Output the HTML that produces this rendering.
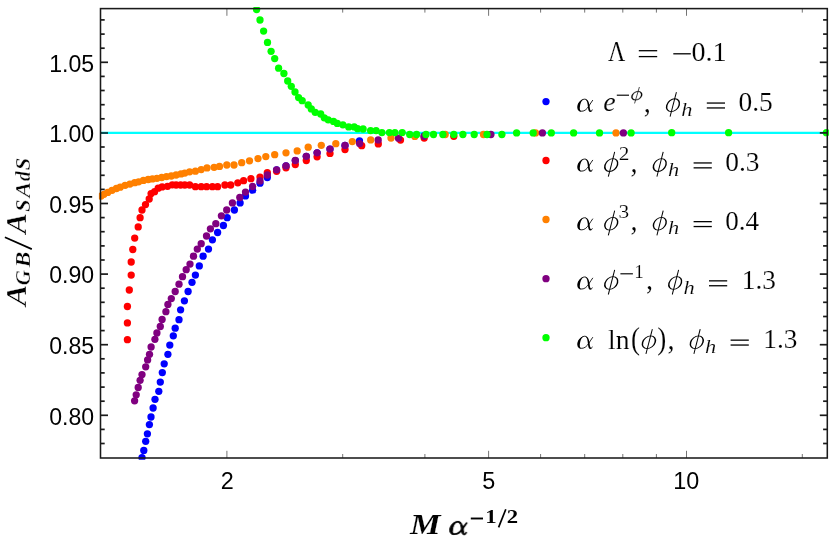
<!DOCTYPE html>
<html><head><meta charset="utf-8"><title>plot</title>
<style>html,body{margin:0;padding:0;background:#fff}svg{display:block}</style></head>
<body>
<svg width="830" height="552" viewBox="0 0 830 552">
<rect width="830" height="552" fill="#fff"/>
<defs><clipPath id="c"><rect x="98.9" y="7.0" width="730.0" height="452.7"/></clipPath></defs>
<g clip-path="url(#c)">
<line x1="100.5" y1="132.9" x2="827.3" y2="132.9" stroke="#00ffff" stroke-width="2.2"/>
<g fill="#0000ff"><circle cx="142.0" cy="457.7" r="3.65"/><circle cx="143.8" cy="450.4" r="3.65"/><circle cx="145.7" cy="441.3" r="3.65"/><circle cx="147.4" cy="433.8" r="3.65"/><circle cx="149.4" cy="424.6" r="3.65"/><circle cx="151.0" cy="417.0" r="3.65"/><circle cx="153.1" cy="408.0" r="3.65"/><circle cx="155.0" cy="399.3" r="3.65"/><circle cx="158.8" cy="391.3" r="3.65"/><circle cx="160.3" cy="382.1" r="3.65"/><circle cx="162.3" cy="372.6" r="3.65"/><circle cx="164.2" cy="363.8" r="3.65"/><circle cx="167.9" cy="354.3" r="3.65"/><circle cx="169.8" cy="345.1" r="3.65"/><circle cx="173.3" cy="335.8" r="3.65"/><circle cx="175.2" cy="328.2" r="3.65"/><circle cx="179.0" cy="319.7" r="3.65"/><circle cx="180.6" cy="309.8" r="3.65"/><circle cx="184.4" cy="300.8" r="3.65"/><circle cx="188.1" cy="291.5" r="3.65"/><circle cx="192.0" cy="282.3" r="3.65"/><circle cx="195.4" cy="275.1" r="3.65"/><circle cx="199.3" cy="265.9" r="3.65"/><circle cx="203.1" cy="256.2" r="3.65"/><circle cx="208.5" cy="249.1" r="3.65"/><circle cx="212.4" cy="239.8" r="3.65"/><circle cx="217.6" cy="232.5" r="3.65"/><circle cx="223.4" cy="225.5" r="3.65"/><circle cx="227.2" cy="217.7" r="3.65"/><circle cx="234.4" cy="210.0" r="3.65"/><circle cx="240.1" cy="202.9" r="3.65"/><circle cx="245.5" cy="195.9" r="3.65"/><circle cx="252.6" cy="190.2" r="3.65"/><circle cx="260.0" cy="183.2" r="3.65"/><circle cx="267.3" cy="177.5" r="3.65"/><circle cx="276.6" cy="169.9" r="3.65"/><circle cx="286.0" cy="165.9" r="3.65"/><circle cx="295.3" cy="160.6" r="3.65"/><circle cx="306.3" cy="156.3" r="3.65"/><circle cx="317.1" cy="152.8" r="3.65"/><circle cx="330.0" cy="149.1" r="3.65"/><circle cx="345.0" cy="145.4" r="3.65"/><circle cx="359.5" cy="141.0" r="3.65"/><circle cx="424.4" cy="135.6" r="3.65"/></g>
<g fill="#ff0000"><circle cx="127.4" cy="339.7" r="3.65"/><circle cx="127.4" cy="322.9" r="3.65"/><circle cx="127.4" cy="306.5" r="3.65"/><circle cx="129.3" cy="290.0" r="3.65"/><circle cx="131.2" cy="275.1" r="3.65"/><circle cx="131.2" cy="262.0" r="3.65"/><circle cx="132.8" cy="249.5" r="3.65"/><circle cx="134.7" cy="238.1" r="3.65"/><circle cx="138.2" cy="226.9" r="3.65"/><circle cx="140.1" cy="217.7" r="3.65"/><circle cx="142.0" cy="210.0" r="3.65"/><circle cx="145.5" cy="204.6" r="3.65"/><circle cx="149.2" cy="199.0" r="3.65"/><circle cx="151.1" cy="193.6" r="3.65"/><circle cx="154.6" cy="191.7" r="3.65"/><circle cx="158.2" cy="188.2" r="3.65"/><circle cx="162.1" cy="186.9" r="3.65"/><circle cx="167.5" cy="186.3" r="3.65"/><circle cx="172.3" cy="184.8" r="3.65"/><circle cx="176.1" cy="185.0" r="3.65"/><circle cx="180.6" cy="185.0" r="3.65"/><circle cx="184.8" cy="185.0" r="3.65"/><circle cx="189.6" cy="185.0" r="3.65"/><circle cx="195.4" cy="186.7" r="3.65"/><circle cx="201.2" cy="186.7" r="3.65"/><circle cx="206.6" cy="186.7" r="3.65"/><circle cx="212.4" cy="186.7" r="3.65"/><circle cx="217.6" cy="186.7" r="3.65"/><circle cx="224.9" cy="185.0" r="3.65"/><circle cx="230.7" cy="185.0" r="3.65"/><circle cx="237.8" cy="182.8" r="3.65"/><circle cx="243.6" cy="180.7" r="3.65"/><circle cx="250.9" cy="178.7" r="3.65"/><circle cx="260.0" cy="177.1" r="3.65"/><circle cx="267.3" cy="172.7" r="3.65"/><circle cx="276.6" cy="171.3" r="3.65"/><circle cx="286.0" cy="167.8" r="3.65"/><circle cx="295.3" cy="164.6" r="3.65"/><circle cx="306.3" cy="160.5" r="3.65"/><circle cx="317.1" cy="156.8" r="3.65"/><circle cx="330.0" cy="153.4" r="3.65"/><circle cx="345.0" cy="149.6" r="3.65"/><circle cx="361.7" cy="145.7" r="3.65"/><circle cx="378.3" cy="143.9" r="3.65"/><circle cx="400.5" cy="140.1" r="3.65"/><circle cx="424.2" cy="138.1" r="3.65"/><circle cx="453.8" cy="136.3" r="3.65"/></g>
<g fill="#ff8000"><circle cx="101.0" cy="196.1" r="3.65"/><circle cx="103.9" cy="194.3" r="3.65"/><circle cx="107.7" cy="192.4" r="3.65"/><circle cx="112.0" cy="190.3" r="3.65"/><circle cx="116.4" cy="188.5" r="3.65"/><circle cx="120.2" cy="187.2" r="3.65"/><circle cx="125.1" cy="185.3" r="3.65"/><circle cx="129.9" cy="184.1" r="3.65"/><circle cx="134.7" cy="182.7" r="3.65"/><circle cx="138.6" cy="181.8" r="3.65"/><circle cx="143.4" cy="180.4" r="3.65"/><circle cx="148.2" cy="179.5" r="3.65"/><circle cx="152.4" cy="178.9" r="3.65"/><circle cx="156.9" cy="178.3" r="3.65"/><circle cx="161.7" cy="177.5" r="3.65"/><circle cx="166.5" cy="176.6" r="3.65"/><circle cx="171.3" cy="176.0" r="3.65"/><circle cx="176.1" cy="175.0" r="3.65"/><circle cx="181.0" cy="173.9" r="3.65"/><circle cx="184.8" cy="173.1" r="3.65"/><circle cx="189.6" cy="171.8" r="3.65"/><circle cx="195.4" cy="171.2" r="3.65"/><circle cx="201.2" cy="169.6" r="3.65"/><circle cx="207.0" cy="167.9" r="3.65"/><circle cx="214.1" cy="167.3" r="3.65"/><circle cx="219.5" cy="166.4" r="3.65"/><circle cx="226.8" cy="165.0" r="3.65"/><circle cx="234.0" cy="165.0" r="3.65"/><circle cx="241.7" cy="162.7" r="3.65"/><circle cx="249.5" cy="160.8" r="3.65"/><circle cx="258.0" cy="158.6" r="3.65"/><circle cx="265.8" cy="156.6" r="3.65"/><circle cx="274.7" cy="154.7" r="3.65"/><circle cx="286.0" cy="152.8" r="3.65"/><circle cx="297.2" cy="150.9" r="3.65"/><circle cx="308.2" cy="147.2" r="3.65"/><circle cx="321.3" cy="145.3" r="3.65"/><circle cx="335.8" cy="143.7" r="3.65"/><circle cx="352.3" cy="141.6" r="3.65"/><circle cx="370.7" cy="139.9" r="3.65"/><circle cx="391.0" cy="138.1" r="3.65"/><circle cx="414.8" cy="136.4" r="3.65"/><circle cx="445.2" cy="134.5" r="3.65"/><circle cx="483.5" cy="134.5" r="3.65"/><circle cx="535.5" cy="132.9" r="3.65"/><circle cx="616.0" cy="132.9" r="3.65"/></g>
<g fill="#800080"><circle cx="134.6" cy="400.8" r="3.65"/><circle cx="136.2" cy="394.8" r="3.65"/><circle cx="138.2" cy="387.5" r="3.65"/><circle cx="140.1" cy="380.3" r="3.65"/><circle cx="142.0" cy="374.6" r="3.65"/><circle cx="145.7" cy="366.8" r="3.65"/><circle cx="147.6" cy="359.9" r="3.65"/><circle cx="149.5" cy="354.3" r="3.65"/><circle cx="151.1" cy="347.0" r="3.65"/><circle cx="154.9" cy="339.3" r="3.65"/><circle cx="156.9" cy="333.0" r="3.65"/><circle cx="160.3" cy="326.5" r="3.65"/><circle cx="162.1" cy="319.5" r="3.65"/><circle cx="165.9" cy="311.7" r="3.65"/><circle cx="167.9" cy="304.4" r="3.65"/><circle cx="171.3" cy="298.6" r="3.65"/><circle cx="175.2" cy="291.5" r="3.65"/><circle cx="179.0" cy="284.2" r="3.65"/><circle cx="182.5" cy="276.7" r="3.65"/><circle cx="186.2" cy="269.7" r="3.65"/><circle cx="190.0" cy="264.1" r="3.65"/><circle cx="193.5" cy="256.2" r="3.65"/><circle cx="197.3" cy="249.1" r="3.65"/><circle cx="201.2" cy="243.7" r="3.65"/><circle cx="206.5" cy="236.0" r="3.65"/><circle cx="210.4" cy="228.8" r="3.65"/><circle cx="215.8" cy="223.7" r="3.65"/><circle cx="221.4" cy="215.8" r="3.65"/><circle cx="226.7" cy="210.0" r="3.65"/><circle cx="232.4" cy="202.9" r="3.65"/><circle cx="239.8" cy="197.5" r="3.65"/><circle cx="245.5" cy="192.1" r="3.65"/><circle cx="252.6" cy="186.5" r="3.65"/><circle cx="260.0" cy="180.9" r="3.65"/><circle cx="267.3" cy="175.0" r="3.65"/><circle cx="276.6" cy="169.8" r="3.65"/><circle cx="286.0" cy="165.9" r="3.65"/><circle cx="295.3" cy="160.5" r="3.65"/><circle cx="306.3" cy="156.3" r="3.65"/><circle cx="317.1" cy="152.8" r="3.65"/><circle cx="330.0" cy="149.1" r="3.65"/><circle cx="345.0" cy="145.4" r="3.65"/><circle cx="359.6" cy="143.6" r="3.65"/><circle cx="378.2" cy="139.9" r="3.65"/><circle cx="398.5" cy="138.2" r="3.65"/><circle cx="424.0" cy="136.3" r="3.65"/><circle cx="490.9" cy="134.5" r="3.65"/><circle cx="542.4" cy="132.9" r="3.65"/><circle cx="623.4" cy="132.9" r="3.65"/></g>
<g fill="#00ff00"><circle cx="256.6" cy="9.6" r="3.65"/><circle cx="260.0" cy="20.0" r="3.65"/><circle cx="263.6" cy="31.1" r="3.65"/><circle cx="267.5" cy="42.4" r="3.65"/><circle cx="271.1" cy="51.3" r="3.65"/><circle cx="274.7" cy="58.6" r="3.65"/><circle cx="278.6" cy="68.2" r="3.65"/><circle cx="283.9" cy="73.5" r="3.65"/><circle cx="287.7" cy="81.0" r="3.65"/><circle cx="291.3" cy="86.3" r="3.65"/><circle cx="295.0" cy="92.0" r="3.65"/><circle cx="298.6" cy="97.6" r="3.65"/><circle cx="302.2" cy="100.7" r="3.65"/><circle cx="308.2" cy="105.0" r="3.65"/><circle cx="311.3" cy="108.9" r="3.65"/><circle cx="315.2" cy="112.3" r="3.65"/><circle cx="320.7" cy="114.0" r="3.65"/><circle cx="324.3" cy="117.8" r="3.65"/><circle cx="328.2" cy="119.8" r="3.65"/><circle cx="333.5" cy="121.4" r="3.65"/><circle cx="337.3" cy="123.4" r="3.65"/><circle cx="342.9" cy="124.8" r="3.65"/><circle cx="348.7" cy="126.9" r="3.65"/><circle cx="354.2" cy="126.9" r="3.65"/><circle cx="357.6" cy="128.7" r="3.65"/><circle cx="363.1" cy="129.0" r="3.65"/><circle cx="370.6" cy="130.6" r="3.65"/><circle cx="376.1" cy="130.6" r="3.65"/><circle cx="381.9" cy="132.6" r="3.65"/><circle cx="389.4" cy="132.6" r="3.65"/><circle cx="394.9" cy="132.6" r="3.65"/><circle cx="402.2" cy="132.6" r="3.65"/><circle cx="409.7" cy="134.5" r="3.65"/><circle cx="416.6" cy="134.5" r="3.65"/><circle cx="426.0" cy="134.5" r="3.65"/><circle cx="433.5" cy="134.5" r="3.65"/><circle cx="442.9" cy="134.5" r="3.65"/><circle cx="453.8" cy="134.5" r="3.65"/><circle cx="462.9" cy="134.5" r="3.65"/><circle cx="474.2" cy="134.5" r="3.65"/><circle cx="487.0" cy="134.5" r="3.65"/><circle cx="501.9" cy="134.5" r="3.65"/><circle cx="516.6" cy="132.9" r="3.65"/><circle cx="533.2" cy="132.9" r="3.65"/><circle cx="551.3" cy="132.9" r="3.65"/><circle cx="573.6" cy="132.9" r="3.65"/><circle cx="599.5" cy="132.9" r="3.65"/><circle cx="631.1" cy="132.9" r="3.65"/><circle cx="671.7" cy="132.7" r="3.65"/><circle cx="728.6" cy="132.7" r="3.65"/><circle cx="826.4" cy="132.7" r="3.65"/></g>
</g>
<g stroke="#1a1a1a" stroke-width="1.7"><line x1="100.5" y1="443.5" x2="104.7" y2="443.5"/><line x1="827.3" y1="443.5" x2="823.1" y2="443.5"/><line x1="100.5" y1="429.4" x2="104.7" y2="429.4"/><line x1="827.3" y1="429.4" x2="823.1" y2="429.4"/><line x1="100.5" y1="415.3" x2="108.0" y2="415.3"/><line x1="827.3" y1="415.3" x2="819.8" y2="415.3"/><line x1="100.5" y1="401.2" x2="104.7" y2="401.2"/><line x1="827.3" y1="401.2" x2="823.1" y2="401.2"/><line x1="100.5" y1="387.1" x2="104.7" y2="387.1"/><line x1="827.3" y1="387.1" x2="823.1" y2="387.1"/><line x1="100.5" y1="372.9" x2="104.7" y2="372.9"/><line x1="827.3" y1="372.9" x2="823.1" y2="372.9"/><line x1="100.5" y1="358.8" x2="104.7" y2="358.8"/><line x1="827.3" y1="358.8" x2="823.1" y2="358.8"/><line x1="100.5" y1="344.7" x2="108.0" y2="344.7"/><line x1="827.3" y1="344.7" x2="819.8" y2="344.7"/><line x1="100.5" y1="330.6" x2="104.7" y2="330.6"/><line x1="827.3" y1="330.6" x2="823.1" y2="330.6"/><line x1="100.5" y1="316.5" x2="104.7" y2="316.5"/><line x1="827.3" y1="316.5" x2="823.1" y2="316.5"/><line x1="100.5" y1="302.3" x2="104.7" y2="302.3"/><line x1="827.3" y1="302.3" x2="823.1" y2="302.3"/><line x1="100.5" y1="288.2" x2="104.7" y2="288.2"/><line x1="827.3" y1="288.2" x2="823.1" y2="288.2"/><line x1="100.5" y1="274.1" x2="108.0" y2="274.1"/><line x1="827.3" y1="274.1" x2="819.8" y2="274.1"/><line x1="100.5" y1="260.0" x2="104.7" y2="260.0"/><line x1="827.3" y1="260.0" x2="823.1" y2="260.0"/><line x1="100.5" y1="245.9" x2="104.7" y2="245.9"/><line x1="827.3" y1="245.9" x2="823.1" y2="245.9"/><line x1="100.5" y1="231.7" x2="104.7" y2="231.7"/><line x1="827.3" y1="231.7" x2="823.1" y2="231.7"/><line x1="100.5" y1="217.6" x2="104.7" y2="217.6"/><line x1="827.3" y1="217.6" x2="823.1" y2="217.6"/><line x1="100.5" y1="203.5" x2="108.0" y2="203.5"/><line x1="827.3" y1="203.5" x2="819.8" y2="203.5"/><line x1="100.5" y1="189.4" x2="104.7" y2="189.4"/><line x1="827.3" y1="189.4" x2="823.1" y2="189.4"/><line x1="100.5" y1="175.3" x2="104.7" y2="175.3"/><line x1="827.3" y1="175.3" x2="823.1" y2="175.3"/><line x1="100.5" y1="161.1" x2="104.7" y2="161.1"/><line x1="827.3" y1="161.1" x2="823.1" y2="161.1"/><line x1="100.5" y1="147.0" x2="104.7" y2="147.0"/><line x1="827.3" y1="147.0" x2="823.1" y2="147.0"/><line x1="100.5" y1="132.9" x2="108.0" y2="132.9"/><line x1="827.3" y1="132.9" x2="819.8" y2="132.9"/><line x1="100.5" y1="118.8" x2="104.7" y2="118.8"/><line x1="827.3" y1="118.8" x2="823.1" y2="118.8"/><line x1="100.5" y1="104.7" x2="104.7" y2="104.7"/><line x1="827.3" y1="104.7" x2="823.1" y2="104.7"/><line x1="100.5" y1="90.5" x2="104.7" y2="90.5"/><line x1="827.3" y1="90.5" x2="823.1" y2="90.5"/><line x1="100.5" y1="76.4" x2="104.7" y2="76.4"/><line x1="827.3" y1="76.4" x2="823.1" y2="76.4"/><line x1="100.5" y1="62.3" x2="108.0" y2="62.3"/><line x1="827.3" y1="62.3" x2="819.8" y2="62.3"/><line x1="100.5" y1="48.2" x2="104.7" y2="48.2"/><line x1="827.3" y1="48.2" x2="823.1" y2="48.2"/><line x1="100.5" y1="34.1" x2="104.7" y2="34.1"/><line x1="827.3" y1="34.1" x2="823.1" y2="34.1"/><line x1="100.5" y1="19.9" x2="104.7" y2="19.9"/><line x1="827.3" y1="19.9" x2="823.1" y2="19.9"/></g>
<g stroke="#505050" stroke-width="0.8"><line x1="226.9" y1="458.0" x2="226.9" y2="450.8"/><line x1="226.9" y1="8.6" x2="226.9" y2="15.8"/><line x1="342.7" y1="458.0" x2="342.7" y2="454.0"/><line x1="342.7" y1="8.6" x2="342.7" y2="12.6"/><line x1="424.9" y1="458.0" x2="424.9" y2="454.0"/><line x1="424.9" y1="8.6" x2="424.9" y2="12.6"/><line x1="488.6" y1="458.0" x2="488.6" y2="450.8"/><line x1="488.6" y1="8.6" x2="488.6" y2="15.8"/><line x1="540.6" y1="458.0" x2="540.6" y2="454.0"/><line x1="540.6" y1="8.6" x2="540.6" y2="12.6"/><line x1="584.7" y1="458.0" x2="584.7" y2="454.0"/><line x1="584.7" y1="8.6" x2="584.7" y2="12.6"/><line x1="622.8" y1="458.0" x2="622.8" y2="454.0"/><line x1="622.8" y1="8.6" x2="622.8" y2="12.6"/><line x1="656.4" y1="458.0" x2="656.4" y2="454.0"/><line x1="656.4" y1="8.6" x2="656.4" y2="12.6"/><line x1="686.5" y1="458.0" x2="686.5" y2="450.8"/><line x1="686.5" y1="8.6" x2="686.5" y2="15.8"/><line x1="802.3" y1="458.0" x2="802.3" y2="454.0"/><line x1="802.3" y1="8.6" x2="802.3" y2="12.6"/></g>
<line x1="101.3" y1="132.9" x2="108" y2="132.9" stroke="#0b5257" stroke-width="1.9"/>
<rect x="100.5" y="8.6" width="726.8" height="449.4" fill="none" stroke="#1a1a1a" stroke-width="1.55"/>
<g fill="#000" opacity="0.999" style="filter:grayscale(1)">
<text transform="translate(49.22,424.54) scale(0.9829,1.0507)" style="font-family:'Liberation Sans',sans-serif" font-size="23.5">0.80</text>
<text transform="translate(49.22,353.94) scale(0.9829,1.0507)" style="font-family:'Liberation Sans',sans-serif" font-size="23.5">0.85</text>
<text transform="translate(49.22,283.34) scale(0.9829,1.0507)" style="font-family:'Liberation Sans',sans-serif" font-size="23.5">0.90</text>
<text transform="translate(49.22,212.74) scale(0.9829,1.0507)" style="font-family:'Liberation Sans',sans-serif" font-size="23.5">0.95</text>
<text transform="translate(49.22,142.14) scale(0.9829,1.0507)" style="font-family:'Liberation Sans',sans-serif" font-size="23.5">1.00</text>
<text transform="translate(49.22,71.54) scale(0.9829,1.0507)" style="font-family:'Liberation Sans',sans-serif" font-size="23.5">1.05</text>
<text transform="translate(220.76,489.00) scale(0.9953,1.0507)" style="font-family:'Liberation Sans',sans-serif" font-size="23.5">2</text>
<text transform="translate(482.26,489.00) scale(0.9953,1.0507)" style="font-family:'Liberation Sans',sans-serif" font-size="23.5">5</text>
<text transform="translate(673.37,489.00) scale(0.9953,1.0507)" style="font-family:'Liberation Sans',sans-serif" font-size="23.5">10</text>
</g>
<g fill="#000" opacity="0.999" style="filter:grayscale(1)" stroke="#fff" stroke-width="0.15">
<text transform="translate(607.89,61.40) scale(0.8557,1.0486)" style="font-family:'Liberation Serif',serif" font-size="28">Λ</text>
<text transform="translate(691.40,61.30) scale(1.0047,0.9974)" style="font-family:'Liberation Serif',serif" font-size="28">0.1</text>
<text transform="translate(603.15,111.45) scale(1.0000,0.9852)" style="font-family:'Liberation Serif',serif;font-style:italic" font-size="28">e</text>
<text transform="translate(643.79,111.64) scale(1.0118,1.0483)" style="font-family:'Liberation Serif',serif" font-size="28">,</text>
<text transform="translate(681.26,115.70) scale(1.1176,0.9929)" style="font-family:'Liberation Serif',serif;font-style:italic" font-size="20">h</text>
<text transform="translate(738.42,111.31) scale(0.9818,0.9870)" style="font-family:'Liberation Serif',serif" font-size="28">0.5</text>
<text transform="translate(618.78,159.50) scale(1.0875,0.9231)" style="font-family:'Liberation Serif',serif" font-size="19.6">2</text>
<text transform="translate(630.59,171.54) scale(1.0118,1.0483)" style="font-family:'Liberation Serif',serif" font-size="28">,</text>
<text transform="translate(668.06,175.60) scale(1.1176,0.9929)" style="font-family:'Liberation Serif',serif;font-style:italic" font-size="20">h</text>
<text transform="translate(725.22,171.21) scale(0.9818,0.9870)" style="font-family:'Liberation Serif',serif" font-size="28">0.3</text>
<text transform="translate(618.51,218.17) scale(1.0875,0.9208)" style="font-family:'Liberation Serif',serif" font-size="19.6">3</text>
<text transform="translate(630.59,230.24) scale(1.0118,1.0483)" style="font-family:'Liberation Serif',serif" font-size="28">,</text>
<text transform="translate(668.06,234.30) scale(1.1176,0.9929)" style="font-family:'Liberation Serif',serif;font-style:italic" font-size="20">h</text>
<text transform="translate(725.23,229.91) scale(0.9672,0.9870)" style="font-family:'Liberation Serif',serif" font-size="28">0.4</text>
<text transform="translate(634.30,278.20) scale(0.9714,0.9231)" style="font-family:'Liberation Serif',serif" font-size="19.6">1</text>
<text transform="translate(645.99,289.44) scale(1.0118,1.0483)" style="font-family:'Liberation Serif',serif" font-size="28">,</text>
<text transform="translate(683.46,293.50) scale(1.1176,0.9929)" style="font-family:'Liberation Serif',serif;font-style:italic" font-size="20">h</text>
<text transform="translate(741.76,289.10) scale(0.9746,1.0000)" style="font-family:'Liberation Serif',serif" font-size="28">1.3</text>
<text transform="translate(608.11,348.60) scale(0.9831,0.9897)" style="font-family:'Liberation Serif',serif" font-size="28">ln</text>
<text transform="translate(630.89,348.91) scale(0.9655,1.0980)" style="font-family:'Liberation Serif',serif" font-size="28">(</text>
<text transform="translate(657.28,349.06) scale(0.9655,1.1200)" style="font-family:'Liberation Serif',serif" font-size="28">)</text>
<text transform="translate(667.59,348.74) scale(1.0118,1.0483)" style="font-family:'Liberation Serif',serif" font-size="28">,</text>
<text transform="translate(705.06,352.80) scale(1.1176,0.9929)" style="font-family:'Liberation Serif',serif;font-style:italic" font-size="20">h</text>
<text transform="translate(763.36,348.40) scale(0.9746,1.0000)" style="font-family:'Liberation Serif',serif" font-size="28">1.3</text>
<text transform="translate(410.00,534.20) scale(1.2000,1.0027)" style="font-family:'Liberation Serif',serif;font-style:italic;font-weight:bold" font-size="28.7">M</text>
<text transform="translate(485.37,523.20) scale(1.3077,1.0261)" style="font-family:'Liberation Serif',serif;font-weight:bold" font-size="17.5" stroke="none">1</text>
<text transform="translate(506.83,523.20) scale(1.2966,1.0261)" style="font-family:'Liberation Serif',serif;font-weight:bold" font-size="17.5" stroke="none">2</text>
</g>
<defs><g id="phi"><path fill-rule="evenodd" transform="translate(7.3,-6.2) skewX(-16)" d="M-7.0,0a7.0,6.8 0 1,0 14.0,0a7.0,6.8 0 1,0 -14.0,0ZM-5.5,0a5.5,5.95 0 1,1 11.0,0a5.5,5.95 0 1,1 -11.0,0Z"/><line x1="10.75" y1="-19.3" x2="4.35" y2="5.3" stroke="#000" stroke-width="1.0"/></g></defs>
<defs><g id="alpha" transform="scale(0.04348) translate(-165,-446)" fill="none" stroke="#000" stroke-linecap="round" stroke-linejoin="round"><path stroke-width="20" d="M388,190 C370,165 350,160 325,163 C250,172 192,262 192,348 C192,402 225,440 272,440 C335,440 395,385 432,322 C462,272 495,228 520,190"/><path stroke="none" fill="#000" d="M300,166 C215,190 167,275 167,352 C167,408 202,450 262,450 C225,432 222,390 226,345 C232,270 262,200 300,166Z"/><path stroke="none" fill="#000" d="M345,156 C405,160 440,225 450,320 C456,385 462,425 482,428 C496,428 503,412 507,396 L520,400 C512,432 498,455 470,455 C432,455 420,420 412,340 C405,255 396,190 345,156Z"/></g></defs><defs><g id="balpha" transform="scale(0.04348) translate(-165,-446)" fill="none" stroke="#000" stroke-linecap="round" stroke-linejoin="round"><path stroke-width="40" d="M388,190 C370,165 350,160 325,163 C250,172 192,262 192,348 C192,402 225,440 272,440 C335,440 395,385 432,322 C462,272 495,228 520,190"/><path stroke="#000" stroke-width="20" fill="#000" d="M300,166 C215,190 167,275 167,352 C167,408 202,450 262,450 C225,432 222,390 226,345 C232,270 262,200 300,166Z"/><path stroke="#000" stroke-width="20" fill="#000" d="M345,156 C405,160 440,225 450,320 C456,385 462,425 482,428 C496,428 503,412 507,396 L520,400 C512,432 498,455 470,455 C432,455 420,420 412,340 C405,255 396,190 345,156Z"/></g></defs>
<use href="#alpha" transform="translate(577.20,111.50)"/><use href="#alpha" transform="translate(577.20,171.40)"/><use href="#alpha" transform="translate(577.20,230.10)"/><use href="#alpha" transform="translate(577.20,289.30)"/><use href="#alpha" transform="translate(577.20,348.60)"/>
<use href="#balpha" transform="translate(449.60,534.40) scale(1.100,1.020)"/>
<use href="#phi" transform="translate(631.30,99.89) scale(0.753,0.668)" stroke="#000" stroke-width="0.40"/><use href="#phi" transform="translate(665.80,111.38) scale(0.986,1.004)" stroke="#000" stroke-width="0.00"/><use href="#phi" transform="translate(604.00,171.28) scale(0.993,1.004)" stroke="#000" stroke-width="0.00"/><use href="#phi" transform="translate(652.60,171.28) scale(0.986,1.004)" stroke="#000" stroke-width="0.00"/><use href="#phi" transform="translate(604.00,229.98) scale(0.993,1.004)" stroke="#000" stroke-width="0.00"/><use href="#phi" transform="translate(652.60,229.98) scale(0.986,1.004)" stroke="#000" stroke-width="0.00"/><use href="#phi" transform="translate(604.00,289.18) scale(0.993,1.004)" stroke="#000" stroke-width="0.00"/><use href="#phi" transform="translate(668.00,289.18) scale(0.986,1.004)" stroke="#000" stroke-width="0.00"/><use href="#phi" transform="translate(641.60,348.48) scale(1.000,1.004)" stroke="#000" stroke-width="0.00"/><use href="#phi" transform="translate(689.60,348.48) scale(0.986,1.004)" stroke="#000" stroke-width="0.00"/>
<g stroke="#000" fill="none"><line x1="638.80" y1="50.70" x2="657.20" y2="50.70" stroke-width="1.30"/><line x1="638.80" y1="56.60" x2="657.20" y2="56.60" stroke-width="1.30"/><line x1="673.30" y1="53.80" x2="690.80" y2="53.80" stroke-width="1.30"/><line x1="616.80" y1="95.20" x2="629.00" y2="95.20" stroke-width="1.15"/><line x1="706.80" y1="103.05" x2="725.00" y2="103.05" stroke-width="1.30"/><line x1="706.80" y1="107.95" x2="725.00" y2="107.95" stroke-width="1.30"/><line x1="693.60" y1="162.95" x2="711.80" y2="162.95" stroke-width="1.30"/><line x1="693.60" y1="167.85" x2="711.80" y2="167.85" stroke-width="1.30"/><line x1="693.60" y1="221.65" x2="711.80" y2="221.65" stroke-width="1.30"/><line x1="693.60" y1="226.55" x2="711.80" y2="226.55" stroke-width="1.30"/><line x1="620.40" y1="273.80" x2="632.90" y2="273.80" stroke-width="1.15"/><line x1="709.00" y1="280.85" x2="727.20" y2="280.85" stroke-width="1.30"/><line x1="709.00" y1="285.75" x2="727.20" y2="285.75" stroke-width="1.30"/><line x1="730.60" y1="340.15" x2="748.80" y2="340.15" stroke-width="1.30"/><line x1="730.60" y1="345.05" x2="748.80" y2="345.05" stroke-width="1.30"/><line x1="470.80" y1="518.50" x2="483.00" y2="518.50" stroke-width="1.90"/><line x1="498.60" y1="527.40" x2="505.80" y2="509.30" stroke-width="1.70"/></g>
<circle cx="546.0" cy="101.6" r="3.65" fill="#0000ff"/><circle cx="546.0" cy="160.5" r="3.65" fill="#ff0000"/><circle cx="546.0" cy="219.5" r="3.65" fill="#ff8000"/><circle cx="546.0" cy="278.7" r="3.65" fill="#800080"/><circle cx="546.0" cy="337.7" r="3.65" fill="#00ff00"/>
<g transform="translate(26.1,307.4) rotate(-90)" fill="#000" opacity="0.999" style="filter:grayscale(1)" stroke="#fff" stroke-width="0.35">
<text transform="translate(1.58,0.00) scale(1.0519,0.9924)" style="font-family:'Liberation Serif',serif;font-style:italic;font-weight:bold" font-size="30">A</text>
<text transform="translate(22.24,4.14) scale(1.0071,1.0214)" style="font-family:'Liberation Serif',serif;font-style:italic;font-weight:bold" font-size="20.6">G</text>
<text transform="translate(39.79,4.20) scale(1.1547,1.0222)" style="font-family:'Liberation Serif',serif;font-style:italic;font-weight:bold" font-size="20.6">B</text>
<text transform="translate(73.93,0.00) scale(1.0173,0.9924)" style="font-family:'Liberation Serif',serif;font-style:italic;font-weight:bold" font-size="30">A</text>
<text transform="translate(95.63,4.14) scale(1.0732,1.0214)" style="font-family:'Liberation Serif',serif;font-style:italic;font-weight:bold" font-size="20.6">S</text>
<text transform="translate(109.84,4.20) scale(1.1429,1.0109)" style="font-family:'Liberation Serif',serif;font-style:italic;font-weight:bold" font-size="20.6">A</text>
<text transform="translate(126.47,4.16) scale(0.9366,0.9793)" style="font-family:'Liberation Serif',serif;font-style:italic;font-weight:bold" font-size="20.6">d</text>
<text transform="translate(137.13,4.14) scale(1.0927,1.0214)" style="font-family:'Liberation Serif',serif;font-style:italic;font-weight:bold" font-size="20.6">S</text>
<line x1="58.3" y1="5.7" x2="70.2" y2="-21.2" stroke="#000" stroke-width="1.7"/>
</g>
</svg>
</body></html>
